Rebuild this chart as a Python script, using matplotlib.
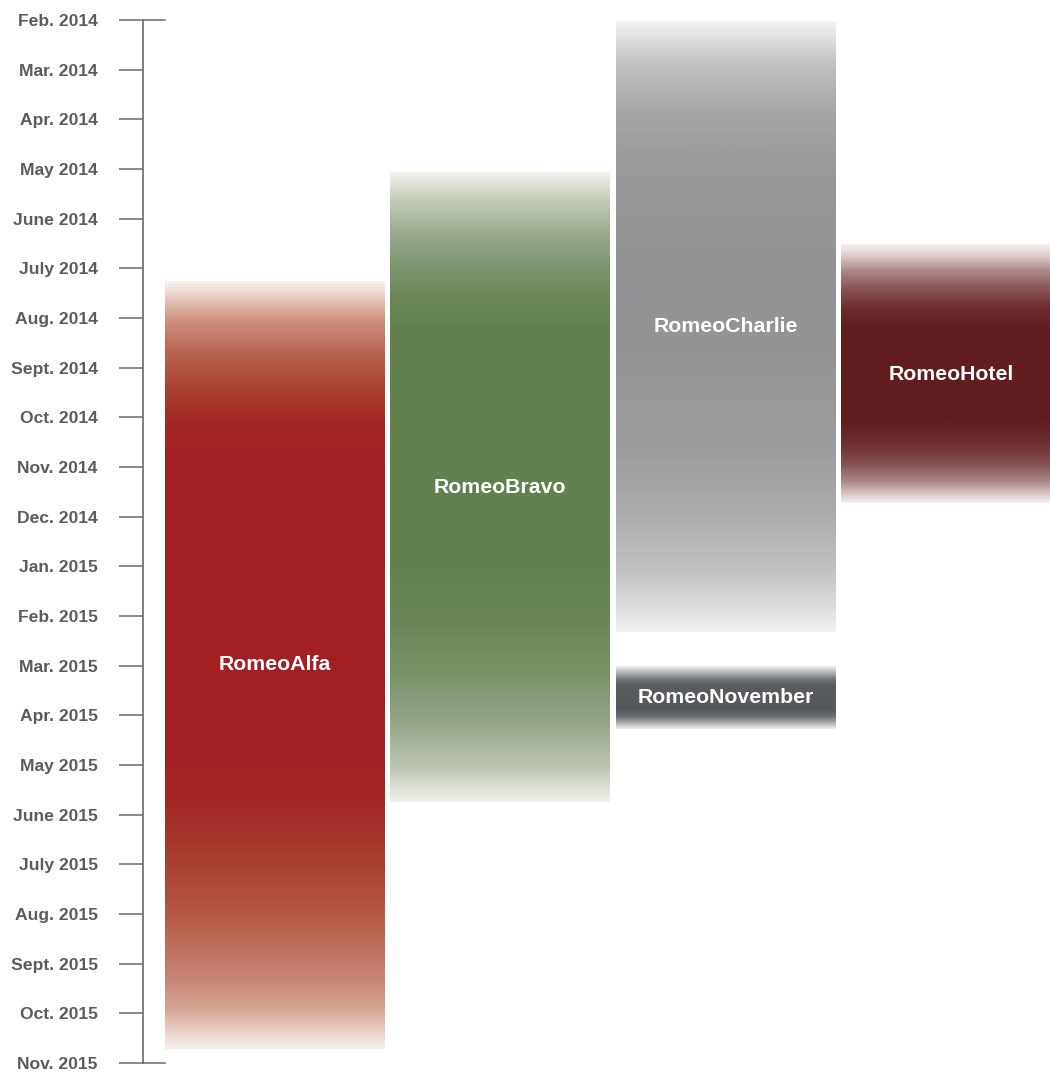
import numpy as np
import pandas as pd
import matplotlib
matplotlib.use("Agg")
import matplotlib.pyplot as plt
from matplotlib.colors import LinearSegmentedColormap

# ==== DATA ====
MONTH_LABELS = ["Feb. 2014", "Mar. 2014", "Apr. 2014", "May 2014", "June 2014",
                "July 2014", "Aug. 2014", "Sept. 2014", "Oct. 2014", "Nov. 2014",
                "Dec. 2014", "Jan. 2015", "Feb. 2015", "Mar. 2015", "Apr. 2015",
                "May 2015", "June 2015", "July 2015", "Aug. 2015", "Sept. 2015",
                "Oct. 2015", "Nov. 2015"]
FIRST_MONTH = "2014-02-01"

projects = ["RomeoAlfa", "RomeoBravo", "RomeoCharlie", "RomeoNovember", "RomeoHotel"]
starts = ["2014-07-09", "2014-05-03", "2014-02-02", "2015-03-01", "2014-06-17"]
ends = ["2015-10-23", "2015-05-24", "2015-02-10", "2015-04-09", "2014-11-23"]
lanes = [0, 1, 2, 2, 3]

# ==== STYLE ====
GRADIENTS = {
    "RomeoAlfa": [(0, "#f7f0ed"), (0.02, "#e6cbc2"), (0.05, "#cf8f7d"), (0.095, "#b8624c"),
                  (0.145, "#a73d2e"), (0.19, "#a32623"), (0.23, "#a31f22"), (0.62, "#a31f22"),
                  (0.675, "#a32623"), (0.74, "#a73a2e"), (0.806, "#b0503c"), (0.858, "#bb6a56"),
                  (0.91, "#c98574"), (0.95, "#d6a596"), (0.975, "#e6cbc2"), (1, "#f6efec")],
    "RomeoBravo": [(0, "#eff1eb"), (0.043, "#c4ccb9"), (0.09, "#9fae92"), (0.14, "#809773"),
                   (0.2, "#6b8759"), (0.26, "#62814f"), (0.6, "#62814f"), (0.7, "#688556"),
                   (0.8, "#7a9269"), (0.88, "#97a68b"), (0.95, "#c0c8b7"), (1, "#eff0eb")],
    "RomeoCharlie": [(0, "#f3f3f3"), (0.03, "#dcdcdc"), (0.08, "#bcbcbd"), (0.15, "#a4a5a7"),
                     (0.25, "#98999b"), (0.4, "#939496"), (0.55, "#949597"), (0.7, "#9c9d9f"),
                     (0.8, "#a9aaab"), (0.9, "#c2c2c3"), (0.96, "#dcdcdc"), (1, "#f2f2f2")],
    "RomeoNovember": [(0, "#f0f0f0"), (0.1, "#b5b6b7"), (0.2, "#76797b"), (0.3, "#585c5e"),
                      (0.7, "#55595b"), (0.8, "#6c6f71"), (0.9, "#a9abac"), (1, "#f0f0f0")],
    "RomeoHotel": [(0, "#f5f0f0"), (0.05, "#d8c5c5"), (0.1, "#b08a8b"), (0.17, "#8a5556"),
                   (0.25, "#6e2b2e"), (0.32, "#611d20"), (0.68, "#611d20"), (0.77, "#6e2d2f"),
                   (0.85, "#855051"), (0.92, "#ad8a8a"), (0.97, "#dccccc"), (1, "#f5f0f0")],
}
LANE_STEP_PX = 225.5
BAR_W = 220 / LANE_STEP_PX
AXIS_COLOR = "#6b6b6b"
FONT = ["Liberation Sans", "DejaVu Sans"]


def month_index(date_str):
    # months since Feb 2014, each month one unit tall
    d = pd.Timestamp(date_str)
    f = pd.Timestamp(FIRST_MONTH)
    whole = (d.year - f.year) * 12 + (d.month - f.month)
    return whole + (d.day - 1) / d.days_in_month


# ==== PLOT ====
W, H = 1050, 1072
fig = plt.figure(figsize=(W / 100, H / 100), dpi=100)
ax_left, ax_top, ax_bot = 143, 20, 1063
ax = fig.add_axes([ax_left / W, (H - ax_bot) / H, (W - ax_left) / W, (ax_bot - ax_top) / H])

x0 = -(274.5 - ax_left) / LANE_STEP_PX

grad = np.linspace(0, 1, 512).reshape(-1, 1)
for name, s, e, lane in zip(projects, starts, ends, lanes):
    top, bot = month_index(s), month_index(e)
    cmap = LinearSegmentedColormap.from_list(name, GRADIENTS[name])
    ax.imshow(grad, cmap=cmap, aspect="auto", interpolation="bilinear",
              extent=[lane - BAR_W / 2, lane + BAR_W / 2, bot, top], zorder=2)
    ax.text(lane, (top + bot) / 2, name, ha="center", va="center", color="white",
            fontsize=15.3, fontweight="bold", family=FONT, zorder=3)

ax.set_xlim(x0, x0 + (W - ax_left) / LANE_STEP_PX)
ax.set_ylim(len(MONTH_LABELS) - 1, 0)

for side in ["top", "right", "bottom"]:
    ax.spines[side].set_visible(False)
ax.spines["left"].set_color(AXIS_COLOR)
ax.spines["left"].set_linewidth(1.2)
ax.set_xticks([])
ax.set_yticks(range(len(MONTH_LABELS)))
ax.set_yticklabels(MONTH_LABELS, family=FONT, fontweight="bold", fontsize=12.6, color="#5c5c5c")
ax.tick_params(axis="y", direction="out", length=17.5, width=1.1, color=AXIS_COLOR, pad=15)

# end caps reaching past the axis line
cap = (165 - ax_left) / (W - ax_left)
for yv in [0, len(MONTH_LABELS) - 1]:
    ax.axhline(yv, xmin=0, xmax=cap, color=AXIS_COLOR, lw=1.1, clip_on=False)

fig.savefig("out.png", dpi=100)
